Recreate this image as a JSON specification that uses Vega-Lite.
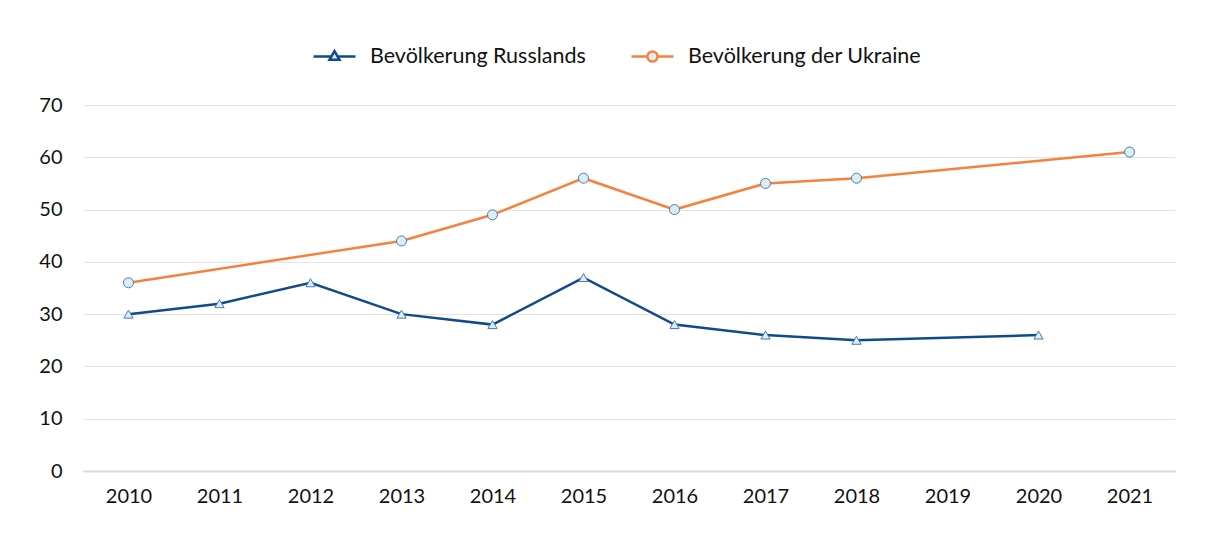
{
  "$schema": "https://vega.github.io/schema/vega-lite/v6.json",
  "width": 1092,
  "height": 366,
  "autosize": {"type": "none"},
  "padding": {"left": 83, "top": 105, "right": 38, "bottom": 64},
  "background": "white",
  "config": {
    "view": {"stroke": null},
    "font": "Lato",
    "axis": {"labelFont": "Lato", "labelFontSize": 20, "labelColor": "#111111", "title": null},
    "legend": {
      "orient": "none",
      "legendX": 229,
      "legendY": -71,
      "direction": "horizontal",
      "padding": 0,
      "symbolSize": 1764,
      "symbolStrokeWidth": 2.5,
      "symbolFillColor": "#dbeef4",
      "labelFont": "Lato",
      "labelFontSize": 21.5,
      "labelColor": "#111111",
      "labelLimit": 0,
      "labelOffset": 13,
      "columnPadding": 40
    }
  },
  "data": {
    "values": [
      {"year": "2010", "series": "Bevölkerung Russlands", "value": 30},
      {"year": "2011", "series": "Bevölkerung Russlands", "value": 32},
      {"year": "2012", "series": "Bevölkerung Russlands", "value": 36},
      {"year": "2013", "series": "Bevölkerung Russlands", "value": 30},
      {"year": "2014", "series": "Bevölkerung Russlands", "value": 28},
      {"year": "2015", "series": "Bevölkerung Russlands", "value": 37},
      {"year": "2016", "series": "Bevölkerung Russlands", "value": 28},
      {"year": "2017", "series": "Bevölkerung Russlands", "value": 26},
      {"year": "2018", "series": "Bevölkerung Russlands", "value": 25},
      {"year": "2020", "series": "Bevölkerung Russlands", "value": 26},
      {"year": "2010", "series": "Bevölkerung der Ukraine", "value": 36},
      {"year": "2013", "series": "Bevölkerung der Ukraine", "value": 44},
      {"year": "2014", "series": "Bevölkerung der Ukraine", "value": 49},
      {"year": "2015", "series": "Bevölkerung der Ukraine", "value": 56},
      {"year": "2016", "series": "Bevölkerung der Ukraine", "value": 50},
      {"year": "2017", "series": "Bevölkerung der Ukraine", "value": 55},
      {"year": "2018", "series": "Bevölkerung der Ukraine", "value": 56},
      {"year": "2021", "series": "Bevölkerung der Ukraine", "value": 61}
    ]
  },
  "encoding": {
    "x": {
      "field": "year",
      "type": "ordinal",
      "scale": {"type": "point", "padding": 0.5, "domain": ["2010", "2011", "2012", "2013", "2014", "2015", "2016", "2017", "2018", "2019", "2020", "2021"]},
      "axis": {"labelAngle": 0, "ticks": false, "domainColor": "#d9d9d9", "domainWidth": 2, "labelPadding": 15, "grid": false}
    },
    "y": {
      "field": "value",
      "type": "quantitative",
      "scale": {"domain": [0, 70], "nice": false},
      "axis": {"values": [0, 10, 20, 30, 40, 50, 60, 70], "domain": false, "ticks": false, "labelPadding": 21, "gridColor": "#e3e3e3", "gridWidth": 1}
    }
  },
  "layer": [
    {
      "mark": {"type": "line", "strokeWidth": 2.5},
      "encoding": {
        "stroke": {
          "field": "series",
          "type": "nominal",
          "title": null,
          "scale": {"domain": ["Bevölkerung Russlands", "Bevölkerung der Ukraine"], "range": ["#0f4b8c", "#f5823c"]}
        }
      }
    },
    {
      "transform": [{"filter": "datum.value > 1000"}],
      "mark": {"type": "point", "filled": true, "fill": "#dbeef4", "opacity": 1},
      "encoding": {
        "stroke": {"field": "series", "type": "nominal", "title": null},
        "shape": {
          "field": "series",
          "type": "nominal",
          "title": null,
          "scale": {
            "domain": ["Bevölkerung Russlands", "Bevölkerung der Ukraine"],
            "range": [
              "M-1,0H-0.16M0.16,0H1M0,-0.26L0.24,0.16L-0.24,0.16Z",
              "M-1,0H-0.24M0.24,0H1M0.24,0A0.24,0.24 0 1,1 -0.24,0A0.24,0.24 0 1,1 0.24,0Z"
            ]
          }
        }
      }
    },
    {
      "transform": [{"filter": "datum.series == 'Bevölkerung Russlands'"}],
      "mark": {"type": "point", "shape": "triangle-up", "filled": true, "fill": "#dbeef4", "stroke": "#4a7bb0", "strokeWidth": 1, "size": 85, "opacity": 1}
    },
    {
      "transform": [{"filter": "datum.series == 'Bevölkerung der Ukraine'"}],
      "mark": {"type": "point", "shape": "circle", "filled": true, "fill": "#dbeef4", "stroke": "#4a7bb0", "strokeWidth": 1, "size": 100, "opacity": 1}
    }
  ]
}
